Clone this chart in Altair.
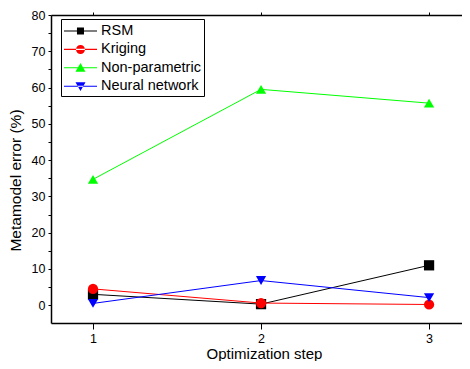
import altair as alt
import pandas as pd

steps = [1, 2, 3]
series_names = ["RSM", "Kriging", "Non-parametric", "Neural network"]
rsm = [3.0, 0.3, 11.0]
kriging = [4.5, 0.6, 0.2]
nonparam = [34.7, 59.5, 55.7]
neural = [0.5, 6.8, 2.1]
colors = ["#000000", "#ff0000", "#00ff00", "#0000ff"]
marker_shapes = ["square", "circle", "triangle-up", "triangle-down"]
y_major = [0, 10, 20, 30, 40, 50, 60, 70, 80]
y_minor = [-5, 5, 15, 25, 35, 45, 55, 65, 75]

rows = []
for name, vals in zip(series_names, [rsm, kriging, nonparam, neural]):
    for s, v in zip(steps, vals):
        rows.append({"step": s, "value": v, "series": name})
df = pd.DataFrame(rows)

# legend symbols: a short line with the marker in its middle
LINE = "M-1,-0.06H2.667V0.06H-1Z "
legend_paths = [
    LINE + "M0.44,-0.39H1.22V0.39H0.44Z",
    LINE + "M0.333,0A0.5,0.5 0 1,0 1.333,0A0.5,0.5 0 1,0 0.333,0Z",
    LINE + "M0.833,-0.52L1.39,0.45H0.277Z",
    LINE + "M0.833,0.52L1.39,-0.45H0.277Z",
]

FONT = "Liberation Sans"
xscale = alt.Scale(domain=[0.75, 3.196], nice=False, zero=False)
yscale = alt.Scale(domain=[-4.9, 80], nice=False, zero=False)

x_main = alt.X("step:Q", scale=xscale,
               axis=alt.Axis(values=steps, format="d", title="Optimization step",
                             tickSize=6, labelPadding=3, grid=False,
                             titleFontSize=15, titleX=213, titleY=35,
                             titleBaseline="alphabetic", titleAlign="center"))
y_main = alt.Y("value:Q", scale=yscale,
               axis=alt.Axis(values=y_major, title="Metamodel error (%)",
                             tickSize=3, labelPadding=3, grid=False,
                             titleFontSize=15.5, titleX=-36, titleY=165,
                             titleBaseline="middle", titleAlign="center",
                             titleAngle=270))
x_plain = alt.X("step:Q", scale=xscale, axis=None)
y_plain = alt.Y("value:Q", scale=yscale, axis=None)

base = alt.Chart(df)

lines = base.mark_line(strokeWidth=1).encode(
    x=x_main, y=y_main,
    color=alt.Color("series:N", scale=alt.Scale(domain=series_names, range=colors), legend=None),
    detail="series:N",
)

points = base.mark_point(filled=True, opacity=1, size=105).encode(
    x=x_plain, y=y_plain,
    color=alt.Color("series:N", scale=alt.Scale(domain=series_names, range=colors), legend=None),
    shape=alt.Shape("series:N", scale=alt.Scale(domain=series_names, range=marker_shapes), legend=None),
)

leg = alt.Legend(title=None, orient="none", legendX=10, legendY=4,
                 strokeColor="black", padding=3,
                 symbolSize=324, symbolStrokeWidth=0,
                 labelFontSize=14.5, labelFont=FONT, labelColor="black",
                 labelOffset=19, rowPadding=2.4, labelLimit=250)

legend_layer = base.transform_filter("false").mark_point(filled=True, opacity=1).encode(
    x=x_plain, y=y_plain,
    color=alt.Color("series:N", scale=alt.Scale(domain=series_names, range=colors), legend=leg),
    shape=alt.Shape("series:N", scale=alt.Scale(domain=series_names, range=legend_paths), legend=leg),
)

frame = base.transform_filter("false").mark_point().encode(
    x=alt.X("step:Q", scale=xscale,
            axis=alt.Axis(orient="top", values=steps, labels=False, title=None,
                          tickSize=3, domain=True, grid=False)),
    y=alt.Y("value:Q", scale=yscale,
            axis=alt.Axis(orient="left", values=y_minor, labels=False, title=None,
                          tickSize=3, domain=False, grid=False)),
)

chart = alt.layer(lines, points, legend_layer, frame).resolve_scale(
    color="independent", shape="independent"
).resolve_axis(
    x="independent", y="independent"
).properties(
    width=411, height=308,
    autosize=alt.AutoSizeParams(type="none"),
    padding={"left": 43, "top": 7, "right": 0, "bottom": 38},
).configure_view(
    stroke="transparent", strokeWidth=0
).configure_axis(
    labelFont=FONT, titleFont=FONT, labelFontSize=12.5,
    titleFontWeight="normal", labelColor="black", titleColor="black",
    domainColor="black", tickColor="black", domainWidth=1.5, tickWidth=1,
)

chart.save("out.html", embed_options={"renderer": "svg", "actions": False})
